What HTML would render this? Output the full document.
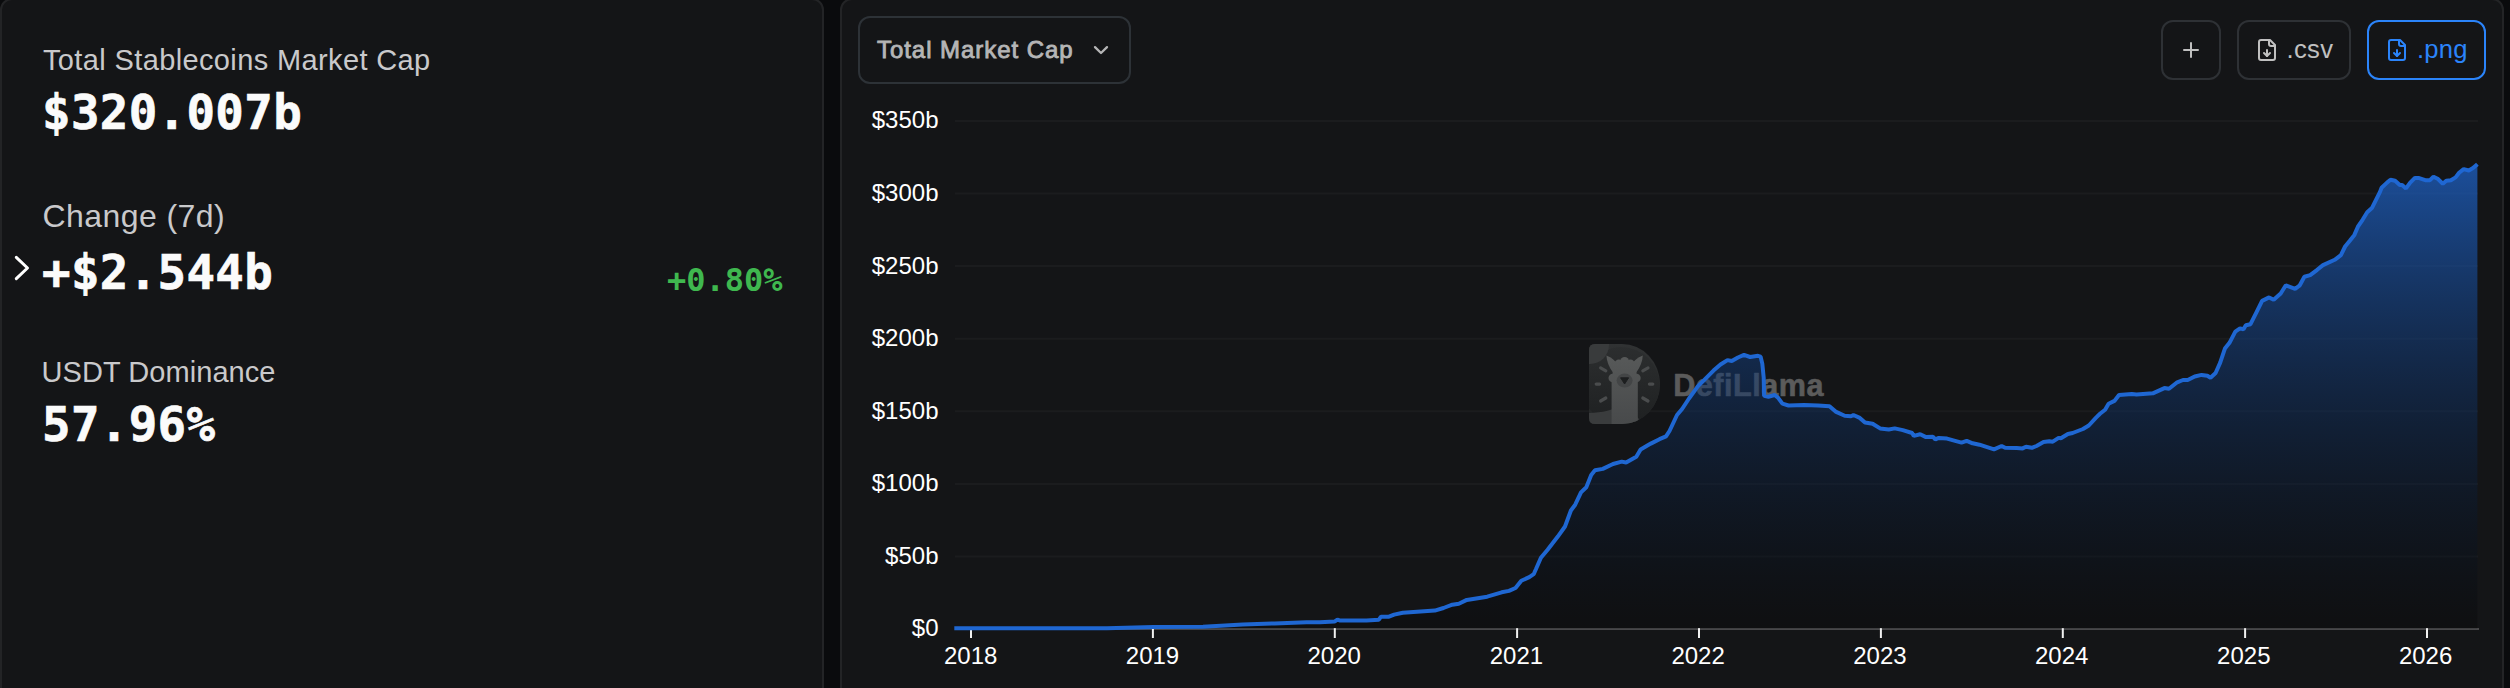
<!DOCTYPE html>
<html lang="en">
<head>
<meta charset="utf-8">
<title>Stablecoins Market Cap</title>
<style>
html,body{margin:0;padding:0;}
body{width:2510px;height:688px;overflow:hidden;background:#0a0b0d;position:relative;font-family:"Liberation Sans",sans-serif;color:#fff;}
.panel{position:absolute;top:-2px;height:720px;box-sizing:border-box;background:#141517;border:2px solid #232426;border-radius:12px;}
.left{left:0;width:824px;}
.right{left:840px;width:1664px;}
.lbl{position:absolute;left:42px;font-size:32px;line-height:40px;color:#c9c9cb;white-space:nowrap;}
.val{position:absolute;left:42px;font-family:"DejaVu Sans Mono","Liberation Mono",monospace;font-weight:700;font-size:47.4px;line-height:56px;color:#fbfbfb;white-space:nowrap;-webkit-text-stroke:0.7px #fbfbfb;letter-spacing:0.36px;}
.pct{position:absolute;font-family:"DejaVu Sans Mono","Liberation Mono",monospace;font-weight:700;font-size:32px;line-height:40px;color:#3fb84f;white-space:nowrap;}
.btn{position:absolute;box-sizing:border-box;border:2px solid #2e3135;border-radius:12px;color:#c0c0c0;font-size:24px;white-space:nowrap;}
.btn span{position:absolute;line-height:28px;}
svg{position:absolute;left:0;top:0;}
</style>
</head>
<body>
<div class="panel left"></div>
<div class="panel right"></div>

<div class="lbl" id="l1" style="top:40px;left:43px;font-size:29px;letter-spacing:0.37px;">Total Stablecoins Market Cap</div>
<div class="val" id="v1" style="top:84.7px;">$320.007b</div>
<div class="lbl" id="l2" style="top:196px;left:42.5px;letter-spacing:0.43px;">Change (7d)</div>
<div class="val" id="v2" style="top:244.7px;">+$2.544b</div>
<div class="pct" id="p1" style="left:667px;top:260px;">+0.80%</div>
<div class="lbl" id="l3" style="top:352px;left:41.5px;font-size:29px;letter-spacing:0.06px;">USDT Dominance</div>
<div class="val" id="v3" style="top:396.7px;">57.96%</div>

<div class="btn" id="dd" style="left:858px;top:16px;width:273px;height:68px;color:#b5b5b6;border-color:#2d3237;"><span id="ddt" style="left:17px;top:18px;-webkit-text-stroke:0.85px #b5b5b6;letter-spacing:0.95px;">Total Market Cap</span></div>
<div class="btn" id="bplus" style="left:2161px;top:20px;width:60px;height:60px;"></div>
<div class="btn" id="bcsv" style="left:2237px;top:20px;width:114px;height:60px;"><span id="csvt" style="left:47.6px;top:13px;font-size:25.6px;letter-spacing:0.3px;">.csv</span></div>
<div class="btn" id="bpng" style="left:2367px;top:20px;width:119px;height:60px;border-color:#2b84fa;color:#2b84fa;"><span id="pngt" style="left:48px;top:13px;font-size:25.6px;letter-spacing:0.2px;">.png</span></div>

<svg width="2510" height="688" viewBox="0 0 2510 688">
<defs>
<linearGradient id="ag" x1="0" y1="164" x2="0" y2="628.5" gradientUnits="userSpaceOnUse">
<stop offset="0" stop-color="#1f67d2" stop-opacity="1"/>
<stop offset="1" stop-color="#000000" stop-opacity="0.36"/>
</linearGradient>
<linearGradient id="wg" x1="0" y1="344" x2="0" y2="424" gradientUnits="userSpaceOnUse"><stop offset="0" stop-color="#303233"/><stop offset="1" stop-color="#242627"/></linearGradient>
<linearGradient id="wg2" x1="0" y1="347" x2="0" y2="425" gradientUnits="userSpaceOnUse"><stop offset="0" stop-color="#2c2e2f"/><stop offset="1" stop-color="#1e2021"/></linearGradient>
<linearGradient id="wg3" x1="0" y1="356" x2="0" y2="424" gradientUnits="userSpaceOnUse"><stop offset="0" stop-color="#575959"/><stop offset="1" stop-color="#484a4b"/></linearGradient>
</defs>
<!-- chevron left -->
<path d="M16.3 257.4 L27.5 268 L16.3 278.6" fill="none" stroke="#ffffff" stroke-width="3" stroke-linecap="round" stroke-linejoin="round"/>
<!-- dropdown chevron -->
<path d="M1095 47.1 L1101 53 L1107 47.1" fill="none" stroke="#b5b5b6" stroke-width="2.3" stroke-linecap="round" stroke-linejoin="round"/>
<!-- plus -->
<path d="M2184 50 H2198 M2191 43 V57" fill="none" stroke="#c0c0c0" stroke-width="2" stroke-linecap="round"/>
<!-- file icons -->
<g id="ic1" transform="translate(2255,38)" fill="none" stroke="#c0c0c0" stroke-width="2" stroke-linecap="round" stroke-linejoin="round">
<path d="M15 2H6a2 2 0 0 0-2 2v16a2 2 0 0 0 2 2h12a2 2 0 0 0 2-2V7Z"/><path d="M14 2v4a2 2 0 0 0 2 2h4"/><path d="M12 18v-6"/><path d="m9 15 3 3 3-3"/>
</g>
<g id="ic2" transform="translate(2385,38)" fill="none" stroke="#2b84fa" stroke-width="2" stroke-linecap="round" stroke-linejoin="round">
<path d="M15 2H6a2 2 0 0 0-2 2v16a2 2 0 0 0 2 2h12a2 2 0 0 0 2-2V7Z"/><path d="M14 2v4a2 2 0 0 0 2 2h4"/><path d="M12 18v-6"/><path d="m9 15 3 3 3-3"/>
</g>
<!-- grid -->
<g stroke="#1b1c1e" stroke-width="2"><line x1="955" x2="2478" y1="121.0" y2="121.0"/><line x1="955" x2="2478" y1="193.6" y2="193.6"/><line x1="955" x2="2478" y1="266.1" y2="266.1"/><line x1="955" x2="2478" y1="338.7" y2="338.7"/><line x1="955" x2="2478" y1="411.3" y2="411.3"/><line x1="955" x2="2478" y1="483.9" y2="483.9"/><line x1="955" x2="2478" y1="556.4" y2="556.4"/></g>
<!-- axis -->
<line x1="955" x2="2479" y1="629" y2="629" stroke="#48484a" stroke-width="2"/>
<g stroke="#f0f0f0" stroke-width="2"><line x1="971.0" x2="971.0" y1="628" y2="638"/><line x1="1152.9" x2="1152.9" y1="628" y2="638"/><line x1="1334.8" x2="1334.8" y1="628" y2="638"/><line x1="1517.1" x2="1517.1" y1="628" y2="638"/><line x1="1699.0" x2="1699.0" y1="628" y2="638"/><line x1="1880.9" x2="1880.9" y1="628" y2="638"/><line x1="2062.8" x2="2062.8" y1="628" y2="638"/><line x1="2245.1" x2="2245.1" y1="628" y2="638"/><line x1="2427.0" x2="2427.0" y1="628" y2="638"/></g>
<g font-family="'Liberation Sans',sans-serif" font-size="24" fill="#ffffff"><text x="938.5" y="128.4" text-anchor="end">$350b</text><text x="938.5" y="201.0" text-anchor="end">$300b</text><text x="938.5" y="273.5" text-anchor="end">$250b</text><text x="938.5" y="346.1" text-anchor="end">$200b</text><text x="938.5" y="418.7" text-anchor="end">$150b</text><text x="938.5" y="491.3" text-anchor="end">$100b</text><text x="938.5" y="563.8" text-anchor="end">$50b</text><text x="938.5" y="636.4" text-anchor="end">$0</text><text x="970.7" y="664.3" text-anchor="middle">2018</text><text x="1152.5" y="664.3" text-anchor="middle">2019</text><text x="1334.2" y="664.3" text-anchor="middle">2020</text><text x="1516.4" y="664.3" text-anchor="middle">2021</text><text x="1698.1" y="664.3" text-anchor="middle">2022</text><text x="1879.9" y="664.3" text-anchor="middle">2023</text><text x="2061.7" y="664.3" text-anchor="middle">2024</text><text x="2243.8" y="664.3" text-anchor="middle">2025</text><text x="2425.6" y="664.3" text-anchor="middle">2026</text></g>
<!-- watermark -->
<g id="wm">
<clipPath id="dclip"><path d="M1595 344 H1622 A38 40 0 0 1 1622 424 H1595 Q1589 424 1589 418 V350 Q1589 344 1595 344 Z"/></clipPath>
<g clip-path="url(#dclip)">
<rect x="1585" y="340" width="80" height="90" fill="url(#wg)"/>
<circle cx="1621" cy="386" r="39" fill="url(#wg2)"/>
<circle cx="1590" cy="345" r="19" fill="#393b3c"/>
<path d="M1585 413 C1600 413 1612 411 1624 404 L1650 430 H1585 Z" fill="#3a3c3d"/>
<g stroke="#4a4c4d" stroke-width="3.2" stroke-linecap="round">
<line x1="1600.6" y1="367.9" x2="1605.8" y2="370.8"/><line x1="1642.8" y1="370.8" x2="1648" y2="367.9"/>
<line x1="1596.2" y1="384.1" x2="1599.6" y2="384.1"/><line x1="1649.4" y1="384.1" x2="1652.8" y2="384.1"/>
<line x1="1600.6" y1="401" x2="1605.8" y2="398"/><line x1="1642.8" y1="398" x2="1648" y2="401"/>
</g>
<g fill="url(#wg3)">
<path d="M1606.4 355.6 C1612 357.5 1618 363 1620 369 L1613 372.5 C1609 367.5 1606.8 361.5 1606.4 355.6 Z"/>
<path d="M1642.8 355.6 C1637.2 357.5 1631.2 363 1629.2 369 L1636.2 372.5 C1640.2 367.500 1642.4 361.5 1642.8 355.6 Z"/>
<circle cx="1624.6" cy="361.3" r="4.4"/><circle cx="1618.8" cy="363.6" r="4.2"/><circle cx="1630.4" cy="363.6" r="4.2"/>
<ellipse cx="1624.6" cy="373.5" rx="12" ry="12.5"/>
<circle cx="1612.8" cy="378" r="4.3"/><circle cx="1636.4" cy="378" r="4.3"/>
<rect x="1611.6" y="380" width="26.2" height="50"/>
</g>
<ellipse cx="1624.6" cy="380.6" rx="8" ry="7" fill="#434546"/>
<path d="M1620.6 377.8 H1628.6 L1624.6 384 Z" fill="#1d1f20" stroke="#1d1f20" stroke-width="1" stroke-linejoin="round"/>
</g>
<text x="1673.2" y="395.7" font-family="'Liberation Sans',sans-serif" font-weight="700" font-size="30.6" letter-spacing="0.5" fill="#5b5b5b" stroke="#5b5b5b" stroke-width="0.6" stroke-linejoin="round">DefiLlama</text>
</g>
<!-- series -->
<path d="M954.3 628.2 L1107.0 628.2 L1153.5 627.0 L1203.0 626.8 L1242.8 624.6 L1274.7 623.4 L1306.5 622.2 L1320.0 622.3 L1334.5 621.6 L1337.4 619.6 L1339.6 620.4 L1366.5 620.4 L1378.9 619.7 L1381.0 616.7 L1389.0 616.7 L1394.1 614.6 L1402.8 612.7 L1434.8 610.6 L1443.5 608.0 L1452.3 604.7 L1458.8 603.7 L1466.8 599.9 L1487.2 596.7 L1501.7 592.3 L1509.0 590.9 L1515.5 588.0 L1521.3 580.7 L1529.3 577.1 L1533.7 574.2 L1536.0 569.0 L1540.9 557.8 L1547.6 549.7 L1557.8 536.6 L1565.0 526.5 L1570.9 510.5 L1575.2 504.7 L1581.0 492.4 L1586.3 487.2 L1591.2 475.0 L1595.0 470.3 L1602.8 468.9 L1613.0 464.0 L1621.7 461.6 L1626.1 462.5 L1636.3 456.7 L1640.6 449.4 L1650.8 443.6 L1659.5 439.2 L1666.0 436.4 L1669.5 431.0 L1677.0 415.0 L1682.1 409.0 L1689.0 398.5 L1697.8 386.3 L1704.8 379.3 L1713.5 370.6 L1720.5 364.5 L1727.5 360.1 L1731.8 361.0 L1737.9 357.5 L1744.0 354.9 L1750.1 357.0 L1758.0 355.8 L1760.6 356.6 L1762.3 363.6 L1763.7 377.6 L1764.1 395.9 L1768.4 396.7 L1774.6 395.0 L1778.0 397.6 L1782.4 403.7 L1788.5 405.5 L1804.2 405.1 L1818.1 405.5 L1829.5 406.3 L1835.6 411.6 L1844.7 415.8 L1851.0 416.2 L1853.4 415.0 L1859.8 417.9 L1865.0 422.6 L1872.6 423.7 L1880.1 428.4 L1888.8 429.5 L1894.7 428.4 L1902.8 430.1 L1912.1 433.0 L1913.8 435.9 L1920.2 434.2 L1926.0 437.1 L1933.0 436.7 L1935.3 439.4 L1938.8 437.9 L1947.0 438.6 L1961.5 442.6 L1966.7 440.9 L1972.6 443.3 L1979.5 444.7 L1994.0 449.3 L2001.6 446.0 L2005.1 447.8 L2016.7 448.1 L2022.6 448.4 L2026.0 446.7 L2031.9 447.8 L2036.5 446.0 L2043.5 442.0 L2049.3 441.2 L2052.8 441.7 L2058.6 437.9 L2060.9 438.3 L2067.9 434.0 L2072.6 433.0 L2083.0 429.0 L2088.8 425.5 L2095.8 417.9 L2100.0 413.8 L2105.1 409.8 L2108.6 403.7 L2114.4 400.9 L2119.0 395.1 L2131.9 394.0 L2136.5 394.4 L2152.8 393.3 L2164.4 388.1 L2169.0 388.8 L2177.2 382.3 L2183.0 380.0 L2187.7 380.0 L2194.7 376.5 L2201.6 374.9 L2207.4 375.8 L2210.5 377.7 L2215.6 373.0 L2220.2 362.6 L2224.9 348.6 L2229.5 342.8 L2235.3 331.6 L2240.0 328.4 L2243.5 329.3 L2245.8 325.3 L2250.5 324.2 L2256.3 312.6 L2262.1 300.9 L2269.1 297.4 L2273.7 299.8 L2280.7 293.5 L2285.8 285.3 L2295.1 288.8 L2299.8 285.3 L2304.4 276.7 L2310.2 275.1 L2317.2 269.8 L2323.0 265.1 L2334.7 259.8 L2340.9 255.1 L2345.1 246.5 L2349.8 240.7 L2354.4 234.9 L2357.9 226.7 L2362.6 219.8 L2367.2 212.3 L2371.9 208.1 L2376.5 198.8 L2380.0 191.9 L2381.6 187.7 L2387.0 182.6 L2390.5 179.8 L2395.1 180.7 L2399.8 184.9 L2402.1 184.9 L2406.0 188.4 L2410.2 182.6 L2414.9 177.9 L2418.4 177.9 L2425.3 180.2 L2430.0 180.2 L2433.5 176.7 L2438.1 179.1 L2442.8 183.7 L2446.3 180.7 L2450.9 180.2 L2455.6 177.4 L2459.1 172.8 L2463.7 169.1 L2468.8 170.5 L2473.0 168.1 L2477.4 164.2 L2477.4 628.5 L954.3 628.5 Z" fill="url(#ag)" fill-opacity="0.7"/>
<path d="M954.3 628.2 L1107.0 628.2 L1153.5 627.0 L1203.0 626.8 L1242.8 624.6 L1274.7 623.4 L1306.5 622.2 L1320.0 622.3 L1334.5 621.6 L1337.4 619.6 L1339.6 620.4 L1366.5 620.4 L1378.9 619.7 L1381.0 616.7 L1389.0 616.7 L1394.1 614.6 L1402.8 612.7 L1434.8 610.6 L1443.5 608.0 L1452.3 604.7 L1458.8 603.7 L1466.8 599.9 L1487.2 596.7 L1501.7 592.3 L1509.0 590.9 L1515.5 588.0 L1521.3 580.7 L1529.3 577.1 L1533.7 574.2 L1536.0 569.0 L1540.9 557.8 L1547.6 549.7 L1557.8 536.6 L1565.0 526.5 L1570.9 510.5 L1575.2 504.7 L1581.0 492.4 L1586.3 487.2 L1591.2 475.0 L1595.0 470.3 L1602.8 468.9 L1613.0 464.0 L1621.7 461.6 L1626.1 462.5 L1636.3 456.7 L1640.6 449.4 L1650.8 443.6 L1659.5 439.2 L1666.0 436.4 L1669.5 431.0 L1677.0 415.0 L1682.1 409.0 L1689.0 398.5 L1697.8 386.3 L1704.8 379.3 L1713.5 370.6 L1720.5 364.5 L1727.5 360.1 L1731.8 361.0 L1737.9 357.5 L1744.0 354.9 L1750.1 357.0 L1758.0 355.8 L1760.6 356.6 L1762.3 363.6 L1763.7 377.6 L1764.1 395.9 L1768.4 396.7 L1774.6 395.0 L1778.0 397.6 L1782.4 403.7 L1788.5 405.5 L1804.2 405.1 L1818.1 405.5 L1829.5 406.3 L1835.6 411.6 L1844.7 415.8 L1851.0 416.2 L1853.4 415.0 L1859.8 417.9 L1865.0 422.6 L1872.6 423.7 L1880.1 428.4 L1888.8 429.5 L1894.7 428.4 L1902.8 430.1 L1912.1 433.0 L1913.8 435.9 L1920.2 434.2 L1926.0 437.1 L1933.0 436.7 L1935.3 439.4 L1938.8 437.9 L1947.0 438.6 L1961.5 442.6 L1966.7 440.9 L1972.6 443.3 L1979.5 444.7 L1994.0 449.3 L2001.6 446.0 L2005.1 447.8 L2016.7 448.1 L2022.6 448.4 L2026.0 446.7 L2031.9 447.8 L2036.5 446.0 L2043.5 442.0 L2049.3 441.2 L2052.8 441.7 L2058.6 437.9 L2060.9 438.3 L2067.9 434.0 L2072.6 433.0 L2083.0 429.0 L2088.8 425.5 L2095.8 417.9 L2100.0 413.8 L2105.1 409.8 L2108.6 403.7 L2114.4 400.9 L2119.0 395.1 L2131.9 394.0 L2136.5 394.4 L2152.8 393.3 L2164.4 388.1 L2169.0 388.8 L2177.2 382.3 L2183.0 380.0 L2187.7 380.0 L2194.7 376.5 L2201.6 374.9 L2207.4 375.8 L2210.5 377.7 L2215.6 373.0 L2220.2 362.6 L2224.9 348.6 L2229.5 342.8 L2235.3 331.6 L2240.0 328.4 L2243.5 329.3 L2245.8 325.3 L2250.5 324.2 L2256.3 312.6 L2262.1 300.9 L2269.1 297.4 L2273.7 299.8 L2280.7 293.5 L2285.8 285.3 L2295.1 288.8 L2299.8 285.3 L2304.4 276.7 L2310.2 275.1 L2317.2 269.8 L2323.0 265.1 L2334.7 259.8 L2340.9 255.1 L2345.1 246.5 L2349.8 240.7 L2354.4 234.9 L2357.9 226.7 L2362.6 219.8 L2367.2 212.3 L2371.9 208.1 L2376.5 198.8 L2380.0 191.9 L2381.6 187.7 L2387.0 182.6 L2390.5 179.8 L2395.1 180.7 L2399.8 184.9 L2402.1 184.9 L2406.0 188.4 L2410.2 182.6 L2414.9 177.9 L2418.4 177.9 L2425.3 180.2 L2430.0 180.2 L2433.5 176.7 L2438.1 179.1 L2442.8 183.7 L2446.3 180.7 L2450.9 180.2 L2455.6 177.4 L2459.1 172.8 L2463.7 169.1 L2468.8 170.5 L2473.0 168.1 L2477.4 164.2" fill="none" stroke="#1f67d2" stroke-width="4" stroke-linejoin="bevel"/>
</svg>
</body>
</html>
